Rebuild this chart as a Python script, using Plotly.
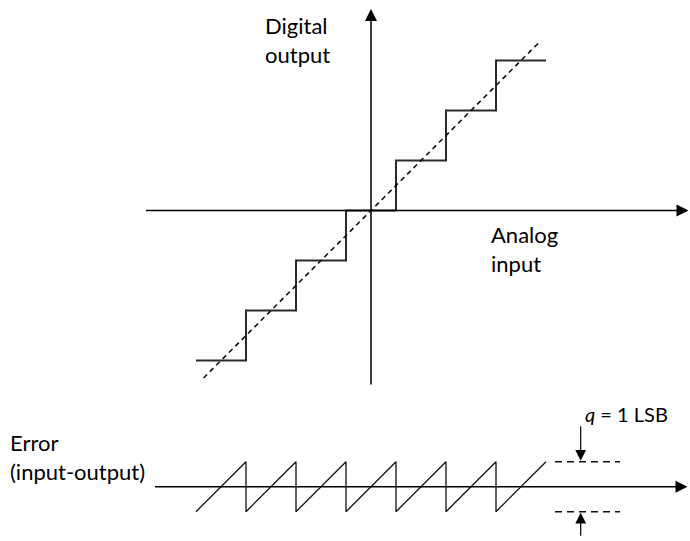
import plotly.graph_objects as go

# ---- data (units: 1 LSB) ----
step_edges = [-3.5, -2.5, -1.5, -0.5, 0.5, 1.5, 2.5, 3.5]
step_levels = [-3, -2, -1, 0, 1, 2, 3, 3]
ideal_x = [-3.35, 3.35]
ideal_y = [-3.35, 3.35]
err_x = [-3.5, -2.5, -2.5, -1.5, -1.5, -0.5, -0.5, 0.5, 0.5, 1.5, 1.5, 2.5, 2.5, 3.5]
err_y = [-0.5, 0.5, -0.5, 0.5, -0.5, 0.5, -0.5, 0.5, -0.5, 0.5, -0.5, 0.5, -0.5, 0.5]
q_levels = [0.5, -0.5]
q_x = [3.68, 4.98]

W, H = 690, 541
FONT = "Lato"

fig = go.Figure()

# staircase
fig.add_trace(go.Scatter(x=step_edges, y=step_levels, mode="lines", line_shape="hv",
                         line=dict(color="#2a2a2a", width=2), xaxis="x", yaxis="y",
                         hoverinfo="skip", showlegend=False))
# ideal transfer line
fig.add_trace(go.Scatter(x=ideal_x, y=ideal_y, mode="lines",
                         line=dict(color="#111", width=1.6, dash="5px,4px"),
                         xaxis="x", yaxis="y", hoverinfo="skip", showlegend=False))
# error sawtooth
fig.add_trace(go.Scatter(x=err_x, y=err_y, mode="lines",
                         line=dict(color="#111", width=1.3),
                         xaxis="x", yaxis="y2", hoverinfo="skip", showlegend=False))
# q dashed levels
for lv in q_levels:
    fig.add_trace(go.Scatter(x=q_x, y=[lv, lv], mode="lines",
                             line=dict(color="#111", width=1.6, dash="7px,5px"),
                             xaxis="x", yaxis="y2", hoverinfo="skip", showlegend=False))

ann = []

def arrow(x, y, ax, ay, yref, w=1.5, s=1.6):
    ann.append(dict(x=x, y=y, ax=ax, ay=ay, xref="x", yref=yref, axref="x", ayref=yref,
                    text="", showarrow=True, arrowhead=2, arrowsize=s, arrowwidth=w,
                    arrowcolor="black", standoff=0))

# axes (top)
arrow(6.35, 0, -4.53, 0, "y")
arrow(0, 4.03, 0, -3.51, "y")
# axis (bottom)
arrow(6.33, 0, -4.35, 0, "y2")
# q arrows
arrow(4.194, 0.52, 4.194, 1.24, "y2", w=1.2, s=1.8)
arrow(4.194, -0.52, 4.194, -1.01, "y2", w=1.2, s=1.8)

def text(px, py, t, size):
    ann.append(dict(x=px / W, y=1 - py / H, xref="paper", yref="paper", text=t,
                    showarrow=False, xanchor="left", yanchor="middle", align="left",
                    font=dict(family=FONT, size=size, color="black")))

text(263, 40, "Digital<br>output", 22)
text(489, 249, "Analog<br>input", 22)
text(8, 457, "Error<br>(input-output)", 22)
text(583, 414, "<i>q</i> = 1 LSB", 20)

fig.update_layout(
    width=W, height=H, margin=dict(l=0, r=0, t=0, b=0),
    paper_bgcolor="white", plot_bgcolor="white",
    xaxis=dict(range=[-7.42, 6.38], visible=False, fixedrange=True),
    yaxis=dict(domain=[0.2606, 1], range=[-3.79, 4.21], visible=False, fixedrange=True),
    yaxis2=dict(domain=[0, 0.2606], range=[-1.086, 1.734], visible=False, fixedrange=True),
    annotations=ann, showlegend=False,
)

fig.write_html("out.html", config={"displayModeBar": False},
               post_script="document.body.style.margin='0';document.body.style.overflow='hidden';")
